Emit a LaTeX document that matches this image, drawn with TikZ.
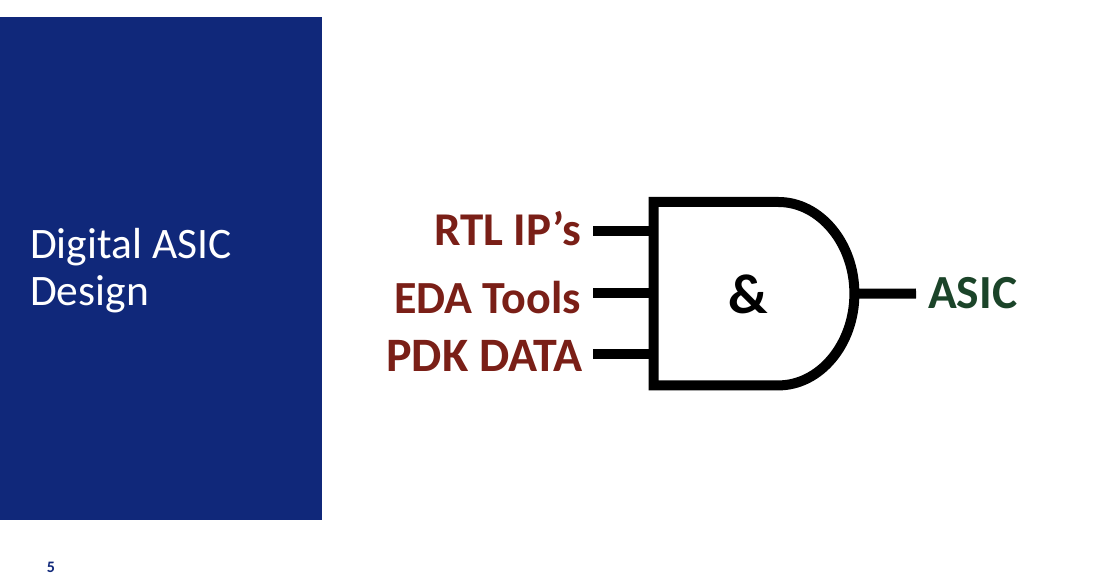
\documentclass[tikz,border=0pt]{standalone}
\usepackage{fontspec}
\setmainfont{Carlito}
\usetikzlibrary{positioning}
\definecolor{panelblue}{HTML}{10287A}
\definecolor{inred}{HTML}{7A1F17}
\definecolor{outgreen}{HTML}{1B4429}
\tikzset{
    inlabel/.style={inner sep=0pt,text=inred,font=\bfseries\fontsize{46}{46}\selectfont},
    wire/.style={line width=10pt}
}

\begin{document}
\begin{tikzpicture}[x=1pt,y=1pt,node distance=12pt]
    \useasboundingbox (0,0) rectangle (1093,-588);
    \fill[white] (0,0) rectangle (1093,-588);

    \node[fill=panelblue,minimum width=322pt,minimum height=503pt,inner sep=0pt,anchor=north west] (panel) at (0,-17) {};
    \node[anchor=west,align=left,inner sep=0pt,text=white,font=\fontsize{43.5}{47}\selectfont] (title) at (30,-271) {Digital ASIC\\Design};
    \node[text=panelblue,inner sep=0pt,font=\bfseries\fontsize{16}{16}\selectfont] (page) at (51,-567) {5};

    \node[minimum width=200.5pt,minimum height=183pt,inner sep=0pt,anchor=north west] (gate) at (653.5,-202) {};
    \node[font=\bfseries\fontsize{56}{56}\selectfont,inner sep=0pt] (amp) at ([xshift=-6pt,yshift=-1pt]gate.center) {\&};
    \coordinate (top) at ([xshift=125pt]gate.north west);
    \coordinate (bot) at ([xshift=125pt]gate.south west);
    \draw[line width=10pt]
    (gate.north west) -- (top)
    .. controls ([xshift=41.4pt]top) and ([yshift=50.5pt]gate.east) .. (gate.east)
    .. controls ([yshift=-50.5pt]gate.east) and ([xshift=41.4pt]bot) .. (bot)
    -- (gate.south west) -- cycle;

    \coordinate (a1) at (593,-231.5);
    \coordinate (a2) at (593,-293);
    \coordinate (a3) at (593,-354);
    \coordinate (q) at (916,-293.5);

    \node[inlabel,font=\bfseries\fontsize{47}{47}\selectfont,left=of a1,yshift=3pt] (rtl) {RTL IP’s};
    \node[inlabel,left=of a2,yshift=-5pt] (eda) {EDA Tools};
    \node[inlabel,font=\bfseries\fontsize{48}{48}\selectfont,left=of a3,xshift=2pt,yshift=-2pt] (pdk) {PDK DATA};
    \node[inner sep=0pt,text=outgreen,font=\bfseries\fontsize{47.5}{47.5}\selectfont,right=of q] (asic) {ASIC};

    \draw[wire] (a1) -- (a1 -| gate.west);
    \draw[wire] (a2) -- (a2 -| gate.west);
    \draw[wire] (a3) -- (a3 -| gate.west);
    \draw[wire] (gate.east) -- (q);
\end{tikzpicture}
\end{document}
